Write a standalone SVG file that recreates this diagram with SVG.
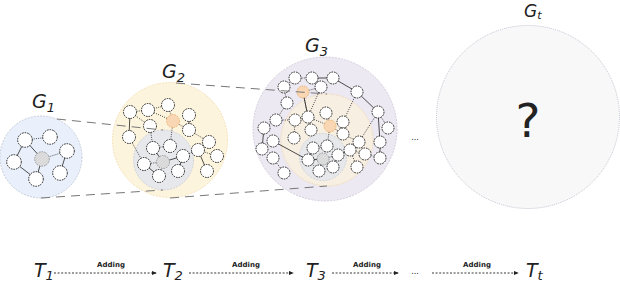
<svg xmlns="http://www.w3.org/2000/svg" width="620" height="284" viewBox="0 0 620 284">
<defs>
<pattern id="hatch" patternUnits="userSpaceOnUse" width="2" height="2" patternTransform="rotate(45)">
<rect width="2" height="2" fill="#e4e4e4"/><line x1="0" y1="0" x2="0" y2="2" stroke="#b5b5b5" stroke-width="0.8"/>
</pattern>
<marker id="ah" viewBox="0 0 6 6" refX="5" refY="3" markerWidth="5" markerHeight="5" orient="auto" markerUnits="userSpaceOnUse">
<path d="M0,0.5 L6,3 L0,5.5 z" fill="#222"/>
</marker>
</defs>
<style>
.n{fill:#fff;stroke:#111;stroke-width:0.9;stroke-dasharray:1.6 1}
.c{fill:url(#hatch);stroke:#888;stroke-width:0.8;stroke-dasharray:1.6 1}
.o{fill:#f9d6b4;stroke:#e8a85a;stroke-width:0.8;stroke-dasharray:1.6 1}
.e{stroke:#222;stroke-width:0.8;stroke-dasharray:1 1.2;fill:none}
.s{stroke:#222;stroke-width:0.8;fill:none}
.tan{stroke:#777;stroke-width:1;stroke-dasharray:9 6;fill:none}
.arr{stroke:#222;stroke-width:0.9;stroke-dasharray:2 1.6;fill:none;marker-end:url(#ah)}
.lbl{font-family:"DejaVu Sans",sans-serif;font-style:italic;fill:#222}
.add{font-family:"DejaVu Sans",sans-serif;font-weight:bold;font-size:7px;fill:#222;text-anchor:middle}
</style>
<rect width="620" height="284" fill="#fff"/>

<g id="G1">
<circle cx="41" cy="157" r="41" fill="#e9f0fb" stroke="#b9c2d0" stroke-width="0.8" stroke-dasharray="2 1.2"/>
<path class="e" d="M25,140 L50,137 M42,159 L67,151"/>
<path class="s" d="M25,140 L14,162 M25,140 L42,159 M14,162 L36,179 M42,159 L36,179 M67,151 L60,173"/>
<circle class="n" cx="25" cy="140" r="7.3"/>
<circle class="n" cx="50" cy="137" r="7.3"/>
<circle class="n" cx="14" cy="162" r="7.3"/>
<circle class="c" cx="42" cy="159" r="7.3"/>
<circle class="n" cx="67" cy="151" r="7.3"/>
<circle class="n" cx="60" cy="173" r="7.3"/>
<circle class="n" cx="36" cy="179" r="7.3"/>
<text class="lbl" x="32" y="108" font-size="19">G<tspan font-size="13" dy="4">1</tspan></text>
</g>

<g id="G2">
<circle cx="170" cy="140" r="57.5" fill="#fdf4de" stroke="#f1dba8" stroke-width="0.8" stroke-dasharray="2 1.2"/>
<circle cx="163.5" cy="160" r="30" fill="#e6e8ec" stroke="#c8ccd4" stroke-width="0.8" stroke-dasharray="2 1.2"/>
<path class="e" d="M130,112 L148,110 L168,105 M130,112 L150,126 M148,110 L173,121 M168,105 L173,121 M129,137 L144,164 M150,126 L153,148 M173,121 L170,146 M173,121 L189,130 M189,130 L209,142 L198,150 L217,156 M198,150 L183,156 M153,148 L170,146 M163,162 L144,164"/>
<path class="s" d="M130,112 L129,137 M189,115 L189,130 M198,150 L207,171 M183,156 L178,171 M183,156 L163,162 L153,148 M144,164 L159,176"/>
<circle class="n" cx="130" cy="112" r="6.5"/>
<circle class="n" cx="148" cy="110" r="6.5"/>
<circle class="n" cx="168" cy="105" r="6.5"/>
<circle class="n" cx="150" cy="126" r="6.5"/>
<circle class="o" cx="173" cy="121" r="6.5"/>
<circle class="n" cx="189" cy="115" r="6.5"/>
<circle class="n" cx="189" cy="130" r="6.5"/>
<circle class="n" cx="129" cy="137" r="6.5"/>
<circle class="n" cx="153" cy="148" r="6.5"/>
<circle class="n" cx="170" cy="146" r="6.5"/>
<circle class="n" cx="209" cy="142" r="6.5"/>
<circle class="n" cx="198" cy="150" r="6.5"/>
<circle class="n" cx="217" cy="156" r="6.5"/>
<circle class="n" cx="207" cy="171" r="6.5"/>
<circle class="n" cx="183" cy="156" r="6.5"/>
<circle class="c" cx="163" cy="162" r="6.5"/>
<circle class="n" cx="144" cy="164" r="6.5"/>
<circle class="n" cx="178" cy="171" r="6.5"/>
<circle class="n" cx="159" cy="176" r="6.5"/>
<text class="lbl" x="162" y="78" font-size="19">G<tspan font-size="13" dy="4">2</tspan></text>
</g>

<g id="G3">
<circle cx="325" cy="129" r="72" fill="#ede9f2" stroke="#c9c2d4" stroke-width="0.8" stroke-dasharray="2 1.2"/>
<circle cx="327" cy="140" r="46" fill="#f7efe2" stroke="#f0cf9a" stroke-width="0.8" stroke-dasharray="1.2 1.2"/>
<circle cx="323" cy="157" r="23.5" fill="#e6e8ec" stroke="#c8ccd4" stroke-width="0.8" stroke-dasharray="2 1.2"/>
<path class="e" d="M295,78 L312,78 M295,78 L284,87 M284,87 L287,103 L276,120 L264,128 M276,120 L295,120 L308,117 L303,92 M303,92 L321,87 L312,78 M308,117 L321,87 M295,120 L294,138 M308,117 L311,130 M308,117 L330,126 M326,113 L330,126 L327,146 M330,126 L343,134 M343,122 L357,92 M343,122 L343,134 M378,112 L388,128 M378,112 L359,142 L343,134 M273,158 L284,173 M313,148 L308,160 M327,146 L313,148 M323,159 L338,155 L350,150 L365,154 L380,158 M350,150 L357,167 M323,159 L319,171 L308,160 M333,167 L323,159"/>
<path class="s" d="M312,78 L333,78 L357,92 L378,112 M273,141 L308,160 L323,159 M264,128 L262,149 M378,112 L380,142 L380,158 M303,92 L308,117"/>
<circle class="n" cx="295" cy="78" r="6"/>
<circle class="n" cx="312" cy="78" r="6"/>
<circle class="n" cx="333" cy="78" r="6"/>
<circle class="n" cx="284" cy="87" r="6"/>
<circle class="o" cx="303" cy="92" r="6"/>
<circle class="n" cx="321" cy="87" r="6"/>
<circle class="n" cx="357" cy="92" r="6"/>
<circle class="n" cx="287" cy="103" r="6"/>
<circle class="n" cx="378" cy="112" r="6"/>
<circle class="n" cx="276" cy="120" r="6"/>
<circle class="n" cx="295" cy="120" r="6"/>
<circle class="n" cx="308" cy="117" r="6"/>
<circle class="n" cx="326" cy="113" r="6"/>
<circle class="o" cx="330" cy="126" r="6"/>
<circle class="n" cx="343" cy="122" r="6"/>
<circle class="n" cx="264" cy="128" r="6"/>
<circle class="n" cx="311" cy="130" r="6"/>
<circle class="n" cx="388" cy="128" r="6"/>
<circle class="n" cx="273" cy="141" r="6"/>
<circle class="n" cx="294" cy="138" r="6"/>
<circle class="n" cx="343" cy="134" r="6"/>
<circle class="n" cx="359" cy="142" r="6"/>
<circle class="n" cx="327" cy="146" r="6"/>
<circle class="n" cx="313" cy="148" r="6"/>
<circle class="n" cx="262" cy="149" r="6"/>
<circle class="n" cx="380" cy="142" r="6"/>
<circle class="n" cx="338" cy="155" r="6"/>
<circle class="n" cx="350" cy="150" r="6"/>
<circle class="n" cx="365" cy="154" r="6"/>
<circle class="n" cx="380" cy="158" r="6"/>
<circle class="n" cx="273" cy="158" r="6"/>
<circle class="n" cx="308" cy="160" r="6"/>
<circle class="c" cx="323" cy="159" r="6"/>
<circle class="n" cx="333" cy="167" r="6"/>
<circle class="n" cx="357" cy="167" r="6"/>
<circle class="n" cx="319" cy="171" r="6"/>
<circle class="n" cx="284" cy="173" r="6"/>
<text class="lbl" x="305" y="52" font-size="19">G<tspan font-size="13" dy="4">3</tspan></text>
</g>

<g id="Gt">
<circle cx="528" cy="117" r="91.5" fill="#f8f8f9" stroke="#b4b4c4" stroke-width="0.8" stroke-dasharray="1 1"/>
<text x="528" y="137" font-family="DejaVu Sans,sans-serif" font-size="47" fill="#222" text-anchor="middle">?</text>
<text class="lbl" x="524" y="17" font-size="17">G<tspan font-size="11" dy="2">t</tspan></text>
</g>

<text x="415" y="140" font-family="DejaVu Sans,sans-serif" font-size="8" fill="#222" text-anchor="middle">...</text>

<g id="timeline">
<text class="lbl" x="34" y="277" font-size="19">T<tspan font-size="13" dy="3">1</tspan></text>
<text class="lbl" x="163" y="277" font-size="19">T<tspan font-size="13" dy="3">2</tspan></text>
<text class="lbl" x="306" y="277" font-size="19">T<tspan font-size="13" dy="3">3</tspan></text>
<text class="lbl" x="526" y="277" font-size="19">T<tspan font-size="13" dy="3">t</tspan></text>
<text class="add" x="111" y="267">Adding</text>
<text class="add" x="246" y="267">Adding</text>
<text class="add" x="367" y="267">Adding</text>
<text class="add" x="477" y="267">Adding</text>
<text x="415" y="274" font-family="DejaVu Sans,sans-serif" font-size="8" fill="#222" text-anchor="middle">...</text>
</g>

<g id="connectors">
<path class="tan" d="M57,119 L163,130"/>
<path class="tan" d="M41,198 L163,190"/>
<path class="tan" d="M176,83 L327,94"/>
<path class="tan" d="M170,198 L327,186"/>
<path class="arr" d="M54,273 L156,273"/>
<path class="arr" d="M189,273 L293,273"/>
<path class="arr" d="M332,273 L398,273"/>
<path class="arr" d="M432,273 L518,273"/>
</g>
</svg>
